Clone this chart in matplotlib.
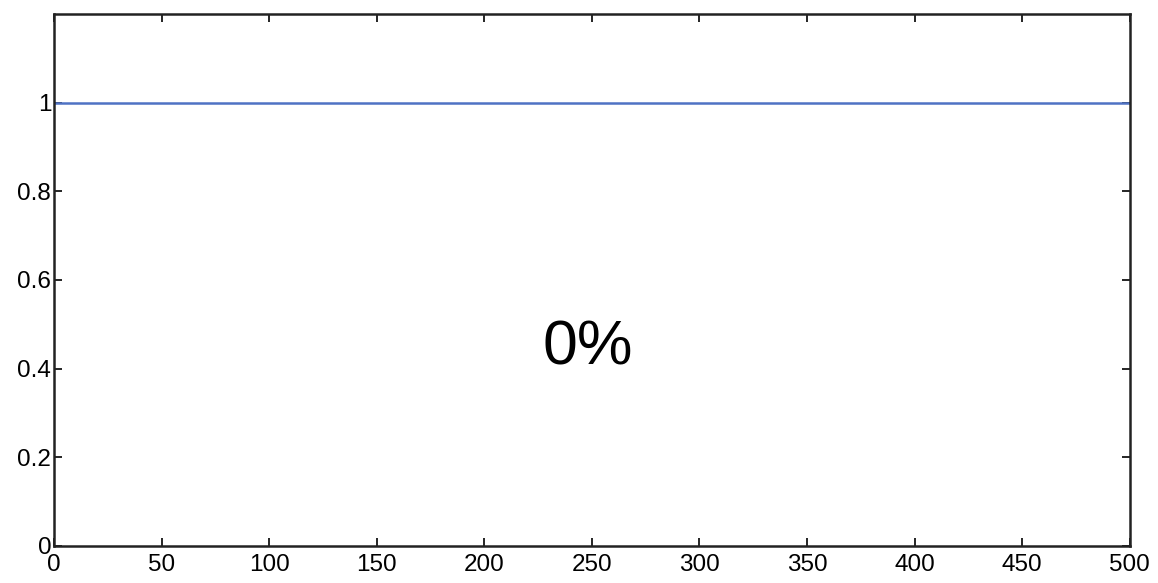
import matplotlib
matplotlib.use("Agg")
import matplotlib.pyplot as plt
import numpy as np

plt.rcParams["font.family"] = ["Liberation Sans", "DejaVu Sans"]

# data
x_vals = np.arange(0, 501)
y_vals = np.ones_like(x_vals, dtype=float)
x_ticks = [0, 50, 100, 150, 200, 250, 300, 350, 400, 450, 500]
y_ticks = [0, 0.2, 0.4, 0.6, 0.8, 1]
y_tick_labels = ["0", "0.2", "0.4", "0.6", "0.8", "1"]
label_text = "0%"

fig = plt.figure(figsize=(11.58, 5.83), dpi=100)
ax = fig.add_axes([0.0466, 0.0635, 0.929, 0.9125])

ax.plot(x_vals, y_vals, color="#4f72c4", linewidth=1.8)
ax.text(248, 0.447, label_text, fontsize=45, ha="center", va="center")

ax.set_xlim(0, 500)
ax.set_ylim(0, 1.2)
ax.set_xticks(x_ticks)
ax.set_yticks(y_ticks)
ax.set_yticklabels(y_tick_labels)
ax.tick_params(direction="in", top=True, right=True, length=6, width=1.2,
               labelsize=17.5, pad=2)
ax.tick_params(axis="x", pad=6)
for s in ax.spines.values():
    s.set_linewidth(1.8)
    s.set_color("#222222")

fig.savefig("out.png", dpi=100)
